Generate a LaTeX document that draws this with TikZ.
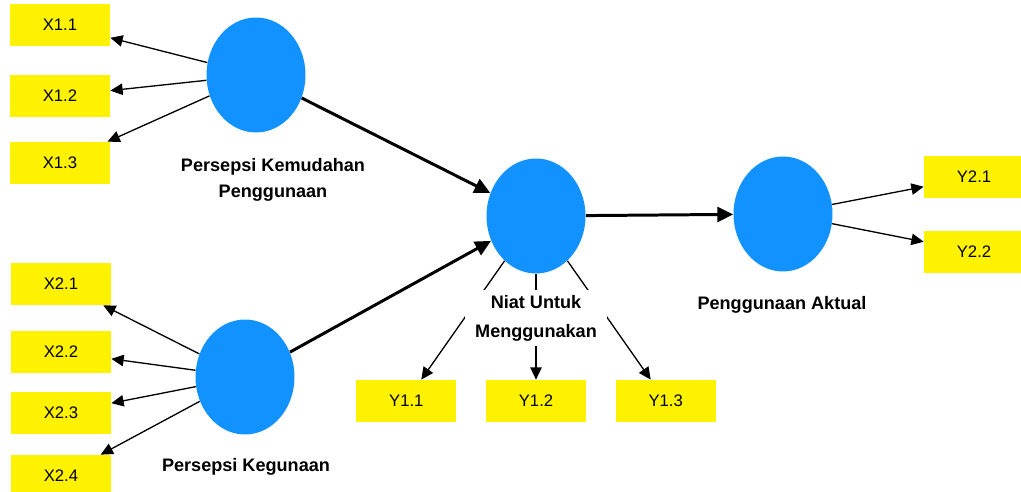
\documentclass[tikz,border=0pt]{standalone}
\usepackage{fontspec}
\setmainfont{Liberation Sans}
\usetikzlibrary{shapes.geometric, arrows.meta}
\usetikzlibrary{positioning}
\definecolor{lvblue}{RGB}{18,146,255}
\tikzstyle{lv} = [ellipse, fill=lvblue, inner sep=0pt, minimum width=1.98cm,
minimum height=2.3cm]
\tikzstyle{ind} = [rectangle, fill=yellow, inner sep=0pt, minimum width=2cm,
minimum height=0.84cm, font=\fontsize{9.5}{11}\selectfont]
\tikzstyle{load} = [->, >={Triangle[length=7pt,width=6.5pt]}, line width=0.75pt]
\tikzstyle{struct} = [->, >={Triangle[length=9pt,width=8.5pt]}, line width=1.7pt]

\begin{document}
\begin{tikzpicture}[x=0.02cm, y=-0.02cm]
  \tikzstyle{lvname}=[font=\bfseries\fontsize{10.3}{15}\selectfont, align=center,
  fill=white, inner xsep=0.2cm, inner ysep=0.1cm]
  \useasboundingbox (0,0) rectangle (1021,492);

  % latent variables
  \node (pku) [lv] at (256,75) {};
  \node (pk) [lv] at (245,377) {};
  \node (niat) [lv] at (536,216) {};
  \node (aktual) [lv] at (783,214) {};

  % indicators
  \node (x11) [ind] at (60,25) {X1.1};
  \node (x12) [ind] at (60,96) {X1.2};
  \node (x13) [ind] at (60,163) {X1.3};
  \node (x21) [ind] at (61,284) {X2.1};
  \node (x22) [ind] at (61,352) {X2.2};
  \node (x23) [ind] at (61,413) {X2.3};
  \node (x24) [ind] at (61,476) {X2.4};
  \node (y12) [ind] at (536,401) {Y1.2};
  \node (y11) [ind, left=0.58cm of y12] {Y1.1};
  \node (y13) [ind, right=0.58cm of y12] {Y1.3};
  \node (y21) [ind] at (974,177) {Y2.1};
  \node (y22) [ind, below=0.64cm of y21] {Y2.2};

  % outer loadings
  \foreach \i in {x11, x12, x13}
    \draw[load] (pku) -- (\i);
  \foreach \i in {x21, x22, x23, x24}
    \draw[load] (pk) -- (\i);
  \foreach \i in {y11, y12, y13}
    \draw[load] (niat) -- (\i);
  \foreach \i in {y21, y22}
    \draw[load] (aktual) -- (\i);

  % inner model
  \draw[struct] (pku) -- (niat);
  \draw[struct] (pk) -- (niat);
  \draw[struct] (niat) -- (aktual);

  % names
  \node (pku-l) [lvname] at (273,180) {Persepsi Kemudahan\\Penggunaan};
  \node (pk-l) [lvname] at (246,467) {Persepsi Kegunaan};
  \node (niat-l) [lvname, below=0.32cm of niat, font=\bfseries\fontsize{10.3}{16.5}\selectfont]
  {Niat Untuk\\Menggunakan};
  \node (aktual-l) [lvname] at (782,305) {Penggunaan Aktual};
\end{tikzpicture}
\end{document}
